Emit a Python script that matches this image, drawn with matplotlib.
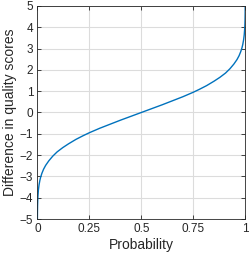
import matplotlib
matplotlib.use('Agg')
import matplotlib.pyplot as plt

# Curve (probability -> difference in quality scores)
prob = [0.0002, 0.0005, 0.001, 0.002, 0.003, 0.005, 0.008, 0.012, 0.016, 0.022,
        0.03, 0.04, 0.055, 0.074, 0.095, 0.122, 0.15, 0.186, 0.22, 0.25,
        0.3, 0.35, 0.4, 0.45, 0.5,
        0.55, 0.6, 0.65, 0.7, 0.75, 0.78, 0.814, 0.85, 0.878, 0.905,
        0.926, 0.945, 0.96, 0.97, 0.978, 0.984, 0.988, 0.992, 0.995, 0.997,
        0.998, 0.999, 0.9995, 0.9998]
diff = [-5.0, -4.67, -4.37, -4.07, -3.9, -3.64, -3.41, -3.19, -3.03, -2.85,
        -2.66, -2.48, -2.27, -2.05, -1.85, -1.65, -1.47, -1.26, -1.09, -0.95,
        -0.74, -0.55, -0.36, -0.18, 0.0,
        0.18, 0.36, 0.55, 0.74, 0.95, 1.09, 1.26, 1.47, 1.65, 1.85,
        2.05, 2.27, 2.48, 2.66, 2.85, 3.03, 3.19, 3.41, 3.64, 3.9,
        4.07, 4.37, 4.67, 5.0]

xticks = [0, 0.25, 0.5, 0.75, 1]
xticklabels = ['0', '0.25', '0.5', '0.75', '1']
yticks = list(range(-5, 6))

plt.rcParams['font.family'] = ['Liberation Sans', 'DejaVu Sans']

fig = plt.figure(figsize=(2.49, 2.58), dpi=100, facecolor='white')
ax = fig.add_axes([0.15, 0.151, 0.835, 0.826])

ax.plot(prob, diff, color='#0072BD', linewidth=1.0)

ax.set_xlim(0, 1)
ax.set_ylim(-5, 5)
ax.set_xticks(xticks)
ax.set_xticklabels(xticklabels)
ax.set_yticks(yticks)
ax.grid(True, color='#dcdcdc', linewidth=0.8)
ax.set_axisbelow(True)

for s in ax.spines.values():
    s.set_color('#262626')
    s.set_linewidth(0.6)
ax.tick_params(direction='in', length=3, width=0.6, color='#262626',
               labelsize=8.5, labelcolor='#262626', top=True, right=True, pad=3)

ax.set_xlabel('Probability', fontsize=10, color='#262626', labelpad=2)
ax.set_ylabel('Difference in quality scores', fontsize=10, color='#262626', labelpad=2)

fig.savefig('out.png', dpi=100, facecolor='white')
